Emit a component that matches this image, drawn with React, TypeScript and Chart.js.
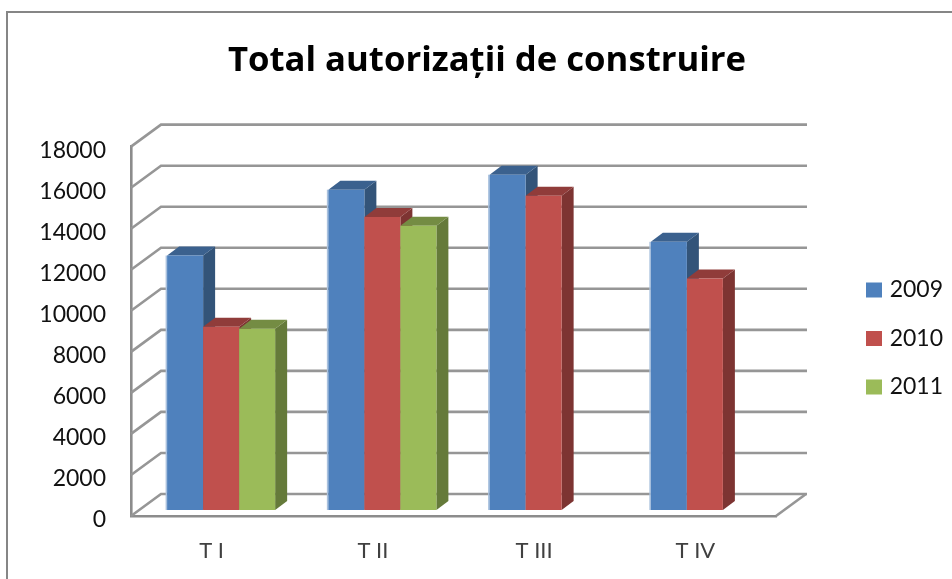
import React, { useEffect, useRef } from "react";
import { Chart, registerables } from "chart.js";

Chart.register(...registerables);

const categories = ["T I", "T II", "T III", "T IV"];
const series2009 = [12400, 15610, 16340, 13070];
const series2010 = [8930, 14280, 15320, 11280];
const series2011 = [8830, 13850, null, null];
const seriesNames = ["2009", "2010", "2011"];
const frontColors = ["#4f81bd", "#c0504d", "#9bbb59"];
const topColors = ["#3b618e", "#903c3a", "#748c43"];
const sideColors = ["#335479", "#7d3432", "#657a3a"];
const yTicks = { min: 0, max: 18000, step: 2000 };
const titleText = "Total autorizații de construire";

const GRID = "#969696";
const WALL_DX = 30;
const WALL_DY = 22;
const BAR_SHIFT_X = 9.5;
const BAR_SHIFT_Y = -6;
const BAR_DX = 12;
const BAR_DY = 9;

const scene3d = {
  id: "scene3d",
  beforeDraw(chart: any) {
    const { ctx } = chart;
    ctx.save();
    ctx.fillStyle = "#ffffff";
    ctx.fillRect(0, 0, chart.width, chart.height);
    ctx.strokeStyle = "#868686";
    ctx.lineWidth = 2;
    ctx.beginPath();
    ctx.moveTo(7, chart.height);
    ctx.lineTo(7, 12);
    ctx.lineTo(chart.width, 12);
    ctx.stroke();
    ctx.restore();
  },
  afterLayout(chart: any) {
    const t = chart.titleBlock;
    t.left = 22;
    t.right = 952;
    const l = chart.legend;
    l.left = 840.5;
    l.right = 943;
    l.top = 253;
    l.bottom = 430;
  },
  beforeDatasetsDraw(chart: any) {
    const { ctx, chartArea: a, scales } = chart;
    ctx.save();
    ctx.strokeStyle = GRID;
    ctx.lineWidth = 2.6;
    ctx.lineCap = "butt";
    scales.y.ticks.forEach((t: any) => {
      const y = scales.y.getPixelForValue(t.value);
      ctx.beginPath();
      ctx.moveTo(a.left, y);
      ctx.lineTo(a.left + WALL_DX, y - WALL_DY);
      ctx.lineTo(a.right + WALL_DX + 1, y - WALL_DY);
      ctx.stroke();
    });
    ctx.beginPath();
    ctx.moveTo(a.right, a.bottom);
    ctx.lineTo(a.right + WALL_DX, a.bottom - WALL_DY);
    ctx.stroke();
    ctx.translate(BAR_SHIFT_X, BAR_SHIFT_Y);
    chart.data.datasets.forEach((ds: any, i: number) => {
      const meta = chart.getDatasetMeta(i);
      meta.data.forEach((bar: any, j: number) => {
        if (ds.data[j] == null) return;
        const { x, y, base, width } = bar.getProps(["x", "y", "base", "width"]);
        const l = x - width / 2;
        const r = x + width / 2;
        ctx.fillStyle = sideColors[i];
        ctx.beginPath();
        ctx.moveTo(r, y);
        ctx.lineTo(r + BAR_DX, y - BAR_DY);
        ctx.lineTo(r + BAR_DX, base - BAR_DY);
        ctx.lineTo(r, base);
        ctx.closePath();
        ctx.fill();
        ctx.fillStyle = topColors[i];
        ctx.beginPath();
        ctx.moveTo(l, y);
        ctx.lineTo(l + BAR_DX, y - BAR_DY);
        ctx.lineTo(r + BAR_DX, y - BAR_DY);
        ctx.lineTo(r, y);
        ctx.closePath();
        ctx.fill();
        if (i === 0) {
          ctx.fillStyle = "#a9c1de";
          ctx.fillRect(l - 1.5, y, 1.5, base - y);
        }
        bar.draw(ctx);
      });
    });
    ctx.restore();
    return false;
  },
};

export default function App() {
  const ref = useRef<HTMLCanvasElement>(null);
  useEffect(() => {
    const chart = new Chart(ref.current as any, {
      type: "bar",
      data: {
        labels: categories,
        datasets: [series2009, series2010, series2011].map((values, i) => ({
          label: seriesNames[i],
          data: values,
          backgroundColor: frontColors[i],
          borderWidth: 0,
          categoryPercentage: 0.67,
          barPercentage: 1,
        })),
      },
      options: {
        responsive: false,
        animation: false,
        layout: { padding: { right: 176, left: 0, top: 0, bottom: 0 } },
        plugins: {
          title: {
            display: true,
            text: titleText,
            color: "#000000",
            font: { family: "'Open Sans'", size: 34.7, weight: "bold" },
            padding: { top: 40, bottom: 65 },
          },
          legend: {
            position: "chartArea",
            align: "start",
            labels: {
              boxWidth: 16,
              boxHeight: 15,
              padding: 25.5,
              color: "#111111",
              textAlign: "right",
              font: { family: "Lato", size: 23 },
            },
          },
          tooltip: { enabled: false },
        },
        scales: {
          x: {
            afterFit: (s: any) => { s.height = 63; },
            grid: { display: false, drawTicks: false },
            border: { color: "#8c8c8c", width: 2.6 },
            ticks: { color: "#404040", padding: 22, font: { family: "Lato", size: 22 } },
          },
          y: {
            min: yTicks.min,
            max: yTicks.max,
            afterFit: (s: any) => { s.width = 131; },
            grid: { display: false, drawTicks: false },
            border: { color: "#8c8c8c", width: 2.6 },
            ticks: {
              stepSize: yTicks.step,
              color: "#111111",
              padding: 25,
              labelOffset: 4,
              font: { family: "Lato", size: 23 },
              callback: (v: any) => String(v),
            },
          },
        },
      },
      plugins: [scene3d],
    } as any);
    return () => chart.destroy();
  }, []);
  return (
    <div style={{ position: "absolute", left: 0, top: 0, width: 952, height: 579 }}>
      <canvas ref={ref} width={952} height={579} style={{ display: "block" }} />
    </div>
  );
}
